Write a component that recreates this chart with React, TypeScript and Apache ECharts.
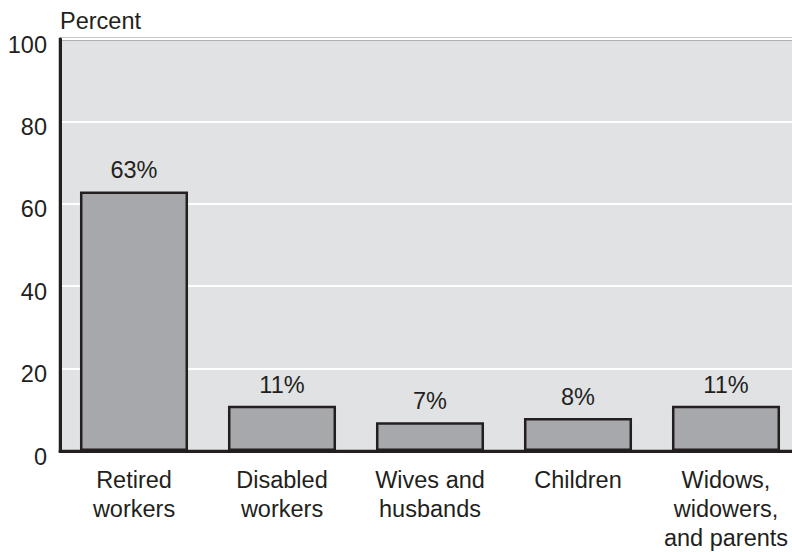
import React, { useEffect, useRef } from "react";
import * as echarts from "echarts";

const categories = [
  "Retired\nworkers",
  "Disabled\nworkers",
  "Wives and\nhusbands",
  "Children",
  "Widows,\nwidowers,\nand parents",
];
const values = [63, 11, 7, 8, 11];
const yTicks = { min: 0, max: 100, interval: 20 };
const yTitle = "Percent";

const INK = "#231f20";
const FONT = "'Liberation Sans', Arial, Helvetica, sans-serif";
const FS = 23.5;

export default function App() {
  const ref = useRef<HTMLDivElement>(null);
  useEffect(() => {
    if (!ref.current) return;
    const chart = echarts.init(ref.current, undefined, { renderer: "svg" });
    chart.setOption({
      animation: false,
      backgroundColor: "#ffffff",
      textStyle: { fontFamily: FONT, color: INK },
      title: {
        text: yTitle,
        left: 55,
        top: 4,
        textStyle: { fontFamily: FONT, fontSize: FS, fontWeight: "normal", color: INK },
      },
      grid: {
        left: 60,
        right: 0,
        top: 39,
        bottom: 97,
        show: true,
        backgroundColor: "#e1e2e4",
        borderColor: INK,
        borderWidth: 2.5,
      },
      xAxis: {
        type: "category",
        data: categories,
        axisLine: { show: true, lineStyle: { color: INK, width: 3 } },
        axisTick: { show: false },
        axisLabel: {
          interval: 0,
          margin: 14,
          fontSize: FS,
          lineHeight: 29,
          color: INK,
          fontFamily: FONT,
        },
      },
      yAxis: {
        type: "value",
        min: yTicks.min,
        max: yTicks.max,
        interval: yTicks.interval,
        axisLine: { show: true, lineStyle: { color: INK, width: 3 } },
        axisTick: { show: false },
        splitLine: { show: true, lineStyle: { color: "#ffffff", width: 2 } },
        axisLabel: {
          margin: 13,
          fontSize: FS,
          color: INK,
          fontFamily: FONT,
          verticalAlign: "top",
          lineHeight: 11,
        },
      },
      series: [
        {
          type: "bar",
          data: values,
          barCategoryGap: "27%",
          itemStyle: { color: "#a7a8ab", borderColor: INK, borderWidth: 2.5 },
          label: {
            show: true,
            position: "top",
            distance: 9,
            formatter: "{c}%",
            fontSize: FS,
            color: INK,
            fontFamily: FONT,
          },
        },
      ],
    });
    return () => chart.dispose();
  }, []);
  return (
    <div
      style={{
        position: "fixed",
        left: 0,
        top: 0,
        width: 792,
        height: 552,
        overflow: "hidden",
      }}
    >
      <div ref={ref} style={{ width: 800, height: 552 }} />
    </div>
  );
}
